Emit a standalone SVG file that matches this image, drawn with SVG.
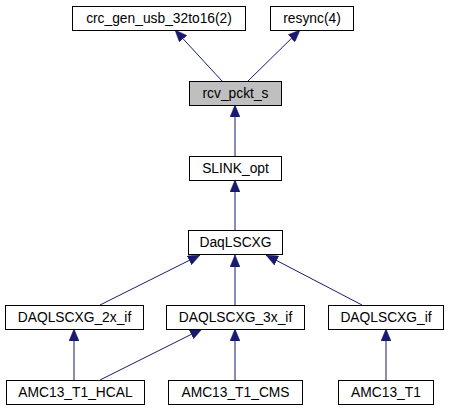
<svg xmlns="http://www.w3.org/2000/svg" width="449" height="411" viewBox="0 0 449 411">
<style>
.box{fill:#ffffff;stroke:#000000;stroke-width:1}
.cur{fill:#bfbfbf;stroke:#000000;stroke-width:1}
text{font-family:"Liberation Sans",Arial,sans-serif;font-size:13.8px;fill:#000000;text-anchor:middle}
.edge{stroke:#191970;stroke-width:1;fill:none;marker-end:url(#arr)}
</style>
<defs>
<marker id="arr" markerUnits="userSpaceOnUse" markerWidth="12" markerHeight="10" refX="12" refY="5" orient="auto">
<path d="M0,0 L12,5 L0,10 z" fill="#191970" stroke="#191970" stroke-width="0.5"/>
</marker>
</defs>
<rect width="449" height="411" fill="#ffffff"/>
<g id="edges">
<line class="edge" x1="222" y1="81" x2="175" y2="30"/>
<line class="edge" x1="248" y1="81" x2="300" y2="30"/>
<line class="edge" x1="235" y1="156" x2="235" y2="105"/>
<line class="edge" x1="235" y1="230" x2="235" y2="180"/>
<line class="edge" x1="100" y1="305" x2="200" y2="255"/>
<line class="edge" x1="235" y1="305" x2="235" y2="255"/>
<line class="edge" x1="362" y1="305" x2="266" y2="255"/>
<line class="edge" x1="74" y1="380" x2="74" y2="329"/>
<line class="edge" x1="100" y1="380" x2="202" y2="329"/>
<line class="edge" x1="235" y1="380" x2="235" y2="329"/>
<line class="edge" x1="386" y1="380" x2="386" y2="329"/>
</g>
<g id="crc_gen_usb_32to16"><rect class="box" x="72.5" y="6.5" width="173" height="24"/><text x="159" y="23">crc_gen_usb_32to16(2)</text></g>
<g id="resync"><rect class="box" x="270.5" y="6.5" width="83" height="24"/><text x="312" y="23">resync(4)</text></g>
<g id="rcv_pckt_s"><rect class="cur" x="189.5" y="81.5" width="92" height="24"/><text x="235.5" y="98">rcv_pckt_s</text></g>
<g id="SLINK_opt"><rect class="box" x="189.5" y="156.5" width="92" height="24"/><text x="235.5" y="173">SLINK_opt</text></g>
<g id="DaqLSCXG"><rect class="box" x="188.5" y="230.5" width="94" height="24"/><text x="235.5" y="247">DaqLSCXG</text></g>
<g id="DAQLSCXG_2x_if"><rect class="box" x="5.5" y="305.5" width="138" height="24"/><text x="74.5" y="322">DAQLSCXG_2x_if</text></g>
<g id="DAQLSCXG_3x_if"><rect class="box" x="166.5" y="305.5" width="138" height="24"/><text x="235.5" y="322">DAQLSCXG_3x_if</text></g>
<g id="DAQLSCXG_if"><rect class="box" x="328.5" y="305.5" width="115" height="24"/><text x="386" y="322">DAQLSCXG_if</text></g>
<g id="AMC13_T1_HCAL"><rect class="box" x="6.5" y="380.5" width="138" height="24"/><text x="75.5" y="397">AMC13_T1_HCAL</text></g>
<g id="AMC13_T1_CMS"><rect class="box" x="168.5" y="380.5" width="134" height="24"/><text x="235.5" y="397">AMC13_T1_CMS</text></g>
<g id="AMC13_T1"><rect class="box" x="338.5" y="380.5" width="95" height="24"/><text x="386" y="397">AMC13_T1</text></g>
</svg>
